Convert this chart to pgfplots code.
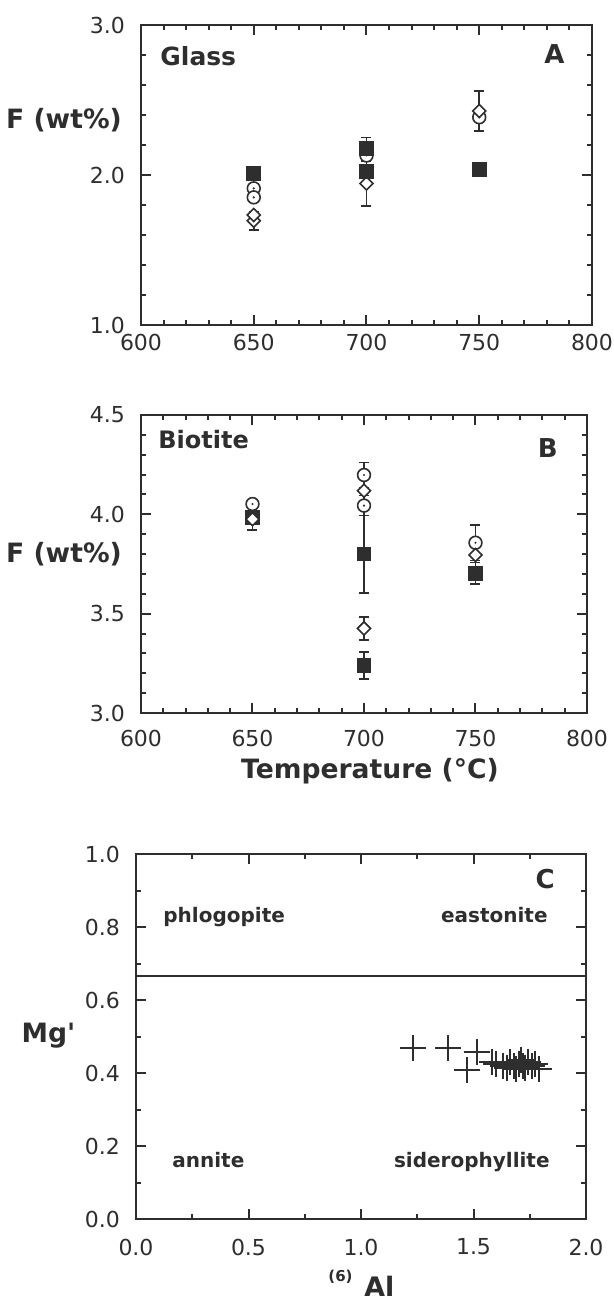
\documentclass[border=0pt]{standalone}
\usepackage{pgfplots}
\pgfplotsset{compat=1.18}
\usepackage{fontspec}
\setmainfont{DejaVu Sans}[Ligatures=TeXOff]
\definecolor{ink}{HTML}{2E2E2E}
\pgfdeclareplotmark{odot}{%
  \pgfpathcircle{\pgfpointorigin}{\pgfplotmarksize}%
  \pgfusepathqfillstroke
  \pgfscope
  \pgfsetfillcolor{ink}%
  \pgfpathcircle{\pgfpointorigin}{0.6pt}%
  \pgfusepathqfill
  \endpgfscope
}
\pgfplotsset{
  panel/.style={
    scale only axis,
    axis line style={ink, line width=1.1pt},
    every tick/.style={ink, line width=1pt},
    tick align=inside,
    major tick length=5pt, minor tick length=2.5pt,
    tick label style={font=\fontsize{11}{13}\selectfont, text=ink},
    yticklabel style={xshift=-4.5pt},
    clip=false,
  },
  sq/.style={only marks, mark=square*, mark size=3.4pt, mark options={draw=ink, fill=ink, line width=0.6pt}},
  cd/.style={only marks, mark=odot, mark size=3.2pt, mark options={draw=ink, fill=white, line width=0.8pt}},
  dm/.style={only marks, mark=square*, mark size=2.3pt, mark options={draw=ink, fill=white, line width=0.8pt, rotate=45}},
  eb/.style={only marks, mark=none, ink, forget plot,
    error bars/.cd, y dir=both, y explicit,
    error bar style={ink, line width=0.8pt},
    error mark options={rotate=90, mark size=2.5pt, line width=0.8pt, ink}},
}
\begin{document}
\begin{tikzpicture}[x=0.5pt, y=-0.5pt]
\path[use as bounding box] (0,0) rectangle (614,1303);

% ---------------- Panel A ----------------
\begin{axis}[panel, at={(70.5pt,-162.5pt)}, anchor=south west,
  width=225.5pt, height=150pt,
  xmin=600, xmax=800, ymin=1, ymax=3,
  xtick={600,650,700,750,800}, xticklabels={600,650,700,750,800},
  ytick={1,2,3}, yticklabels={1.0,2.0,3.0},
  minor x tick num=4, minor y tick num=4,
  xticklabel style={yshift=-1pt}]
\addplot[eb] coordinates {
  (650,1.695) +- (0,0.062)
  (700,1.944) +- (0,0.151)
  (700,2.178) +- (0,0.071)
  (750,2.427) +- (0,0.133)
};
\addplot[cd] coordinates {(650,1.911) (650,1.851) (700,2.130) (750,2.385)};
\addplot[dm] coordinates {(650,1.695) (650,1.733) (700,1.944) (750,2.427)};
\addplot[sq] coordinates {(650,2.011) (700,2.178) (700,2.022) (750,2.038)};
\end{axis}

% ---------------- Panel B ----------------
\begin{axis}[panel, at={(70.5pt,-356.5pt)}, anchor=south west,
  width=223pt, height=149pt,
  xmin=600, xmax=800, ymin=3, ymax=4.5,
  xtick={600,650,700,750,800}, xticklabels={600,650,700,750,800},
  ytick={3,3.5,4,4.5}, yticklabels={3.0,3.5,4.0,4.5},
  minor x tick num=4, minor y tick num=4,
  xticklabel style={yshift=-4.8pt}]
\addplot[eb] coordinates {
  (650,3.975) +- (0,0.055)
  (700,4.198) +- (0,0.062)
  (700,4.044) +- (0,0.050)
  (700,3.800) +- (0,0.195)
  (700,3.426) +- (0,0.058)
  (700,3.238) +- (0,0.068)
  (750,3.857) +- (0,0.089)
  (750,3.703) +- (0,0.055)
};
\addplot[sq] coordinates {(650,3.985) (700,3.800) (700,3.238) (750,3.703)};
\addplot[cd] coordinates {(650,4.052) (700,4.198) (700,4.044) (750,3.857)};
\addplot[dm] coordinates {(650,3.975) (700,4.119) (700,3.426) (750,3.795)};
\end{axis}

% ---------------- Panel C ----------------
\begin{axis}[panel, at={(68pt,-609.5pt)}, anchor=south west,
  width=225pt, height=182.5pt,
  xmin=0, xmax=2, ymin=0, ymax=1,
  xtick={0,0.5,1,1.5,2}, xticklabels={0.0,0.5,1.0,1.5,2.0},
  ytick={0,0.2,0.4,0.6,0.8,1}, yticklabels={0.0,0.2,0.4,0.6,0.8,1.0},
  minor x tick num=1, minor y tick num=1,
  xticklabel style={yshift=-6.3pt}]
\addplot[ink, line width=1pt] coordinates {(0,0.667) (2,0.667)};
\addplot[only marks, mark=+, mark size=6.5pt, mark options={ink, line width=1pt}] coordinates {
  (1.232,0.468) (1.388,0.468) (1.514,0.458) (1.473,0.408) (1.580,0.431)
  (1.600,0.425) (1.630,0.420) (1.650,0.415) (1.660,0.430) (1.680,0.420)
  (1.690,0.410) (1.700,0.425) (1.710,0.435) (1.720,0.420) (1.730,0.415)
  (1.740,0.430) (1.760,0.420) (1.775,0.425) (1.790,0.410)
};
\end{axis}

% ---------------- Texts ----------------
\begin{scope}[every node/.style={text=ink, inner sep=0pt}]
\node[anchor=base] at (64,128) {\fontsize{13.3}{15}\selectfont\bfseries F (wt\%)};
\node[anchor=base] at (64,562) {\fontsize{13.3}{15}\selectfont\bfseries F (wt\%)};
\node[anchor=base] at (370,778) {\fontsize{13.3}{15}\selectfont\bfseries Temperature (°C)};
\node[anchor=base] at (48.5,1042) {\fontsize{13.3}{15}\selectfont\bfseries Mg'};
\node[anchor=base west] at (328,1281) {\fontsize{7.5}{9}\selectfont\bfseries (6)};
\node[anchor=base west] at (364,1296) {\fontsize{13.4}{15}\selectfont\bfseries Al};
\node[anchor=base west] at (160,65) {\fontsize{12.5}{14}\selectfont\bfseries Glass};
\node[anchor=base east] at (565,63) {\fontsize{13}{15}\selectfont\bfseries A};
\node[anchor=base west] at (158,448) {\fontsize{12}{14}\selectfont\bfseries Biotite};
\node[anchor=base east] at (558,457) {\fontsize{13}{15}\selectfont\bfseries B};
\node[anchor=base east] at (555,888) {\fontsize{13}{15}\selectfont\bfseries C};
\node[anchor=base west] at (163,922) {\fontsize{10}{12}\selectfont\bfseries phlogopite};
\node[anchor=base east] at (548,922) {\fontsize{10}{12}\selectfont\bfseries eastonite};
\node[anchor=base west] at (172,1167) {\fontsize{10}{12}\selectfont\bfseries annite};
\node[anchor=base east] at (550,1167) {\fontsize{10}{12}\selectfont\bfseries siderophyllite};
\end{scope}
\end{tikzpicture}
\end{document}
